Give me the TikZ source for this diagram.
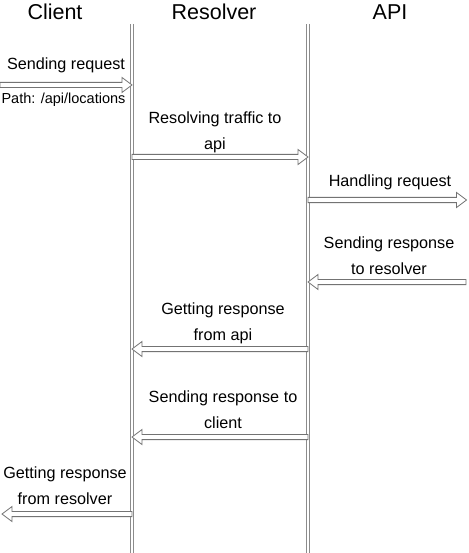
\documentclass[tikz,border=0pt]{standalone}
\usepackage{fontspec}
\setmainfont{Liberation Sans}
\usetikzlibrary{calc}
\tikzset{
  header/.style={anchor=base, inner sep=0pt, font=\fontsize{21.5}{25}\selectfont},
  lbl/.style={anchor=base, inner sep=0pt, align=center, font=\fontsize{16.2}{26}\selectfont},
  small/.style={anchor=base, inner sep=0pt, font=\fontsize{14.5}{17}\selectfont},
  lifeline/.style={draw=black!45, line width=0.9pt, double=white, double distance=1.3pt},
  harrow/.style={draw=black!55, fill=white, line width=0.8pt, line join=miter},
}
\newcommand\hollowarrow[3]{%
  \draw[harrow] ($(#1)+(0,-2.6)$) -- ($(#2)+(-10*#3,-2.6)$) -- ($(#2)+(-10*#3,-7.5)$)
    -- (#2) -- ($(#2)+(-10*#3,7.5)$) -- ($(#2)+(-10*#3,2.6)$) -- ($(#1)+(0,2.6)$) -- cycle;}
\begin{document}
\begin{tikzpicture}[x=1pt, y=-1pt]
\useasboundingbox (0,0) rectangle (468,553);
% headers
\node[header] (hc) at (55,19.5) {Client};
\node[header] (hr) at (214,19.5) {Resolver};
\node[header] (ha) at (390,19.5) {API};
% lifelines
\coordinate (ct) at (132,24); \coordinate (cb) at (132,553);
\coordinate (rt) at (308,24); \coordinate (rb) at (308,553);
\draw[lifeline] (ct) -- (cb);
\draw[lifeline] (rt) -- (rb);
% arrow end points
\coordinate (a1s) at (0,85);    \coordinate (a1e) at (132,85);
\coordinate (a2s) at (132,157); \coordinate (a2e) at (308,157);
\coordinate (a3s) at (308,200); \coordinate (a3e) at (466.5,200);
\coordinate (a4s) at (466,282); \coordinate (a4e) at (308,282);
\coordinate (a5s) at (308,349); \coordinate (a5e) at (132,349);
\coordinate (a6s) at (308,437); \coordinate (a6e) at (132,437);
\coordinate (a7s) at (132,514); \coordinate (a7e) at (2,514);
\hollowarrow{a1s}{a1e}{1}
\hollowarrow{a2s}{a2e}{1}
\hollowarrow{a3s}{a3e}{1}
\hollowarrow{a4s}{a4e}{-1}
\hollowarrow{a5s}{a5e}{-1}
\hollowarrow{a6s}{a6e}{-1}
\hollowarrow{a7s}{a7e}{-1}
% labels (multi-line nodes: base anchor is the last line)
\node[lbl] (l1) at (66,70) {Sending request};
\node[small] (l1b) at (63.5,104) {Path: /api/locations};
\node[lbl] (l2) at (215,150) {Resolving traffic to\\api};
\node[lbl] (l3) at (390,186) {Handling request};
\node[lbl] (l4) at (389,274) {Sending response\\to resolver};
\node[lbl] (l5) at (223,340) {Getting response\\from api};
\node[lbl] (l6) at (223,428) {Sending response to\\client};
\node[lbl] (l7) at (65,504) {Getting response\\from resolver};
\end{tikzpicture}
\end{document}
